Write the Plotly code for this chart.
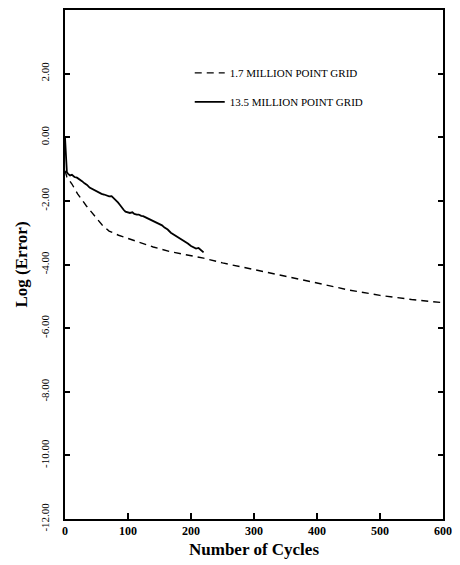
import plotly.graph_objects as go

# Convergence history: log10 of the residual error versus multigrid cycles
coarse_cycles = [0, 3, 11, 20, 34, 47, 59, 70, 85, 100, 117, 140, 168, 200, 220,
                 250, 300, 350, 400, 450, 500, 550, 600]
coarse_log_err = [-1.05, -1.25, -1.47, -1.78, -2.16, -2.47, -2.76, -2.95, -3.08, -3.18,
                  -3.3, -3.45, -3.6, -3.72, -3.8, -3.95, -4.15, -4.37, -4.58, -4.8,
                  -4.97, -5.1, -5.2]

fine_cycles = [0, 1, 2, 3, 5, 8, 11, 15, 19, 23, 27, 31, 35, 39, 43, 47, 51, 54, 58,
               62, 66, 70, 74, 78, 81, 84, 87, 90, 93, 96, 100, 103, 107, 110, 114,
               117, 121, 124, 128, 132, 136, 140, 145, 150, 154, 158, 163, 168, 173,
               179, 184, 190, 195, 200, 204, 208, 212, 216, 220]
fine_log_err = [0.0, -0.45, -0.85, -1.1, -1.15, -1.2, -1.18, -1.25, -1.27, -1.32, -1.38,
                -1.45, -1.5, -1.58, -1.62, -1.68, -1.7, -1.74, -1.78, -1.8, -1.83, -1.86,
                -1.85, -1.92, -1.98, -2.05, -2.12, -2.22, -2.28, -2.34, -2.36, -2.38,
                -2.36, -2.41, -2.43, -2.43, -2.47, -2.48, -2.52, -2.56, -2.59, -2.62,
                -2.67, -2.72, -2.77, -2.84, -2.9, -3.0, -3.06, -3.15, -3.2, -3.28, -3.34,
                -3.42, -3.47, -3.5, -3.48, -3.54, -3.62]

y_ticks = [2, 0, -2, -4, -6, -8, -10, -12]
y_tick_text = ["2.00", "0.00", "-2.00", "-4.00", "-6.00", "-8.00", "-10.00", "-12.00"]
x_ticks = [0, 100, 200, 300, 400, 500, 600]
x_tick_text = ["0", "100", "200", "300", "400", "500", "600"]

serif = "Liberation Serif, Times New Roman, serif"

fig = go.Figure()
fig.add_trace(go.Scatter(
    x=coarse_cycles, y=coarse_log_err, mode="lines",
    name="1.7 MILLION POINT GRID", legendgroup="a",
    line=dict(color="black", width=1.4, dash="7px,5px"),
))
fig.add_trace(go.Scatter(
    x=fine_cycles, y=fine_log_err, mode="lines",
    name="13.5 MILLION POINT GRID", legendgroup="b",
    line=dict(color="black", width=1.8),
))

fig.update_layout(
    width=460, height=565,
    margin=dict(l=65, r=9, t=8, b=46),
    paper_bgcolor="white", plot_bgcolor="white",
    font=dict(family=serif, color="black"),
    legend=dict(
        x=0.33, y=0.905, xanchor="left", yanchor="top",
        bgcolor="rgba(0,0,0,0)", tracegroupgap=10,
        font=dict(family=serif, size=11, color="black"),
    ),
    xaxis=dict(
        range=[0, 600], tickvals=x_ticks, ticktext=x_tick_text,
        ticks="inside", ticklen=6, tickwidth=1.5, tickcolor="black",
        showline=True, linecolor="black", linewidth=2, mirror=True,
        showgrid=False, zeroline=False,
        tickfont=dict(family=serif, size=12, weight="bold"),
        title=dict(text="Number of Cycles", standoff=6,
                   font=dict(family=serif, size=17, weight="bold")),
    ),
    yaxis=dict(
        range=[-12, 4], tickvals=y_ticks, ticktext=y_tick_text,
        ticks="inside", ticklen=5, tickwidth=1.5, tickcolor="black",
        showline=True, linecolor="black", linewidth=2, mirror="ticks",
        showgrid=False, zeroline=False, tickangle=-90,
        ticklabelstandoff=10,
        tickfont=dict(family=serif, size=11),
        title=dict(text="Log (Error)", standoff=7,
                   font=dict(family=serif, size=17, weight="bold")),
    ),
)

fig.write_html("out.html")
